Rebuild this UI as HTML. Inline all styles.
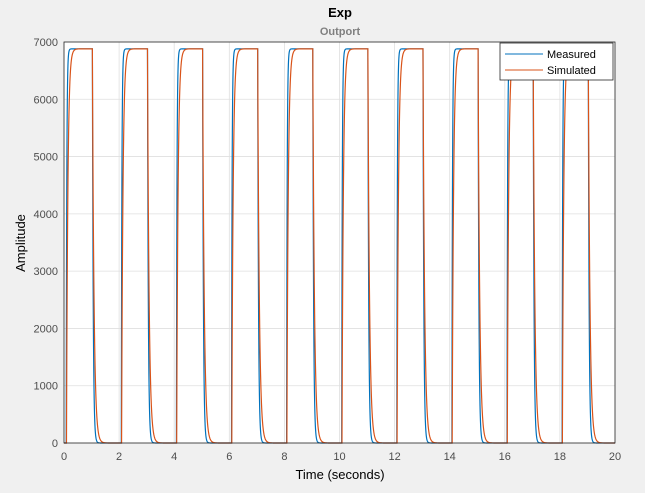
<!DOCTYPE html>
<html><head><meta charset="utf-8"><style>
body{margin:0;background:#f0f0f0;font-family:"Liberation Sans",sans-serif}
</style></head><body>
<svg width="645" height="488" xmlns="http://www.w3.org/2000/svg" font-family="Liberation Sans, sans-serif">
<rect width="645" height="488" fill="#f0f0f0"/>
<rect x="64" y="42" width="551" height="401" fill="#fff"/>
<g id="grid"></g>
<g id="series"></g>
<rect x="64" y="42" width="551" height="401" fill="none" stroke="#262626" stroke-width="0.8"/>
<g id="ticks"></g>
<text x="340" y="17" text-anchor="middle" font-size="13" font-weight="bold" fill="#000">Exp</text>
<text x="340" y="35" text-anchor="middle" font-size="11" font-weight="bold" fill="#808080">Outport</text>
<text x="340" y="479" text-anchor="middle" font-size="13" fill="#000">Time (seconds)</text>
<text transform="translate(25,243) rotate(-90)" text-anchor="middle" font-size="13" fill="#000">Amplitude</text>
<g>
<rect x="500" y="43" width="113" height="37" fill="#fff" stroke="#262626" stroke-width="0.8"/>
<line x1="505" y1="54" x2="543" y2="54" stroke="#0072bd"/>
<text x="547" y="58" font-size="11">Measured</text>
<line x1="505" y1="70" x2="543" y2="70" stroke="#d95319"/>
<text x="547" y="74" font-size="11">Simulated</text>
</g>
</svg>
<script>
const xTicks=[0,2,4,6,8,10,12,14,16,18,20];
const yTicks=[0,1000,2000,3000,4000,5000,6000,7000];
const pulseStarts=[0,2,4,6,8,10,12,14,16,18];
const highLevel=[6880];
const measuredRiseDelay=[0.08], measuredRiseTau=[0.02], measuredFallDelay=[1.03], measuredFallTau=[0.03];
const simRiseDelay=[0.09], simRiseTau=[0.05], simFallDelay=[1.03], simFallTau=[0.06];
const NS='http://www.w3.org/2000/svg';
const X=t=>64+t/20*551, Y=v=>443-v/7000*401;
const g=document.getElementById('grid'), tk=document.getElementById('ticks'), s=document.getElementById('series');
function mk(tag,attrs,parent){const e=document.createElementNS(NS,tag);for(const k in attrs)e.setAttribute(k,attrs[k]);parent.appendChild(e);return e;}
xTicks.forEach(t=>{
 const l=mk('line',{x1:X(t),x2:X(t),y1:42,y2:443,stroke:'#dfdfdf','stroke-width':0.8},g);
 
 
 const tt=mk('text',{x:X(t),y:460,'text-anchor':'middle','font-size':11,fill:'#4d4d4d'},tk);
 tt.textContent=t;
 
 
});
yTicks.forEach(v=>{
 const l=mk('line',{x1:64,x2:615,y1:Y(v),y2:Y(v),stroke:'#dfdfdf','stroke-width':0.8},g);
 
 
 const tt=mk('text',{x:58,y:Y(v)+4,'text-anchor':'end','font-size':11,fill:'#4d4d4d'},tk);
 tt.textContent=v;
 
 
});
function signal(t,rd,rt,fd,ft){
 let v=0;const A=highLevel[0];
 for(const p of pulseStarts){
  const r=p+rd[0], f=p+fd[0];
  if(t>=r&&t<f) v=A*(1-Math.exp(-(t-r)/rt[0]));
  else if(t>=f&&t<p+2){const top=A*(1-Math.exp(-(f-r)/rt[0]));v=top*Math.exp(-(t-f)/ft[0]);}
  else if(t>=p && t<r && p>0) v=Math.max(v,0);
 }
 return v;
}
function draw(col,rd,rt,fd,ft,name){
 let d='';
 for(let i=0;i<=8000;i++){const t=i/8000*20;d+=(i?'L':'M')+X(t).toFixed(2)+','+Y(signal(t,rd,rt,fd,ft)).toFixed(2);}
 const p=mk('path',{d:d,fill:'none',stroke:col,'stroke-width':1.2},s);
 
 
}
draw('#0072bd',measuredRiseDelay,measuredRiseTau,measuredFallDelay,measuredFallTau,'measured-line');
draw('#d95319',simRiseDelay,simRiseTau,simFallDelay,simFallTau,'simulated-line');
</script>
</body></html>
